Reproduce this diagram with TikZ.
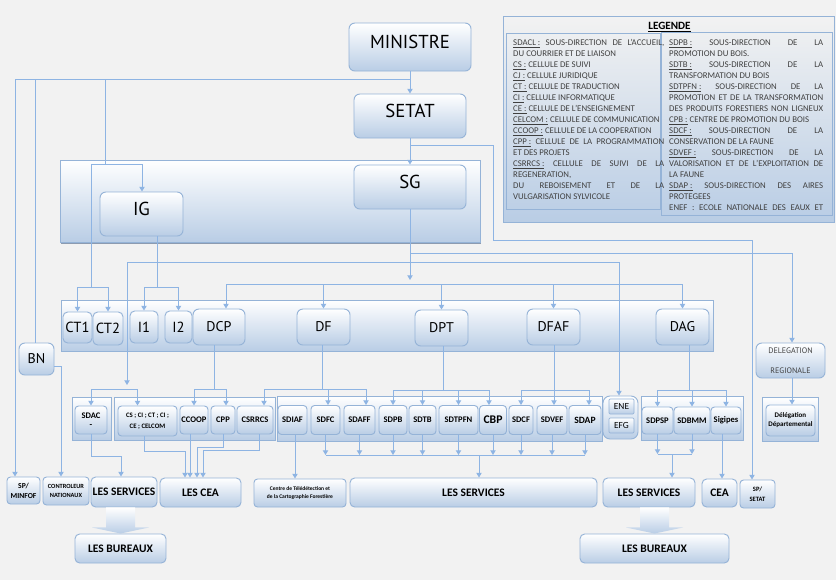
\documentclass[tikz,border=0pt]{standalone}
\usepackage{fontspec}
\setmainfont{Carlito}
\newfontfamily\hdfont{PT Sans}
\usetikzlibrary{arrows.meta,calc}
\tikzset {>={Triangle[width=4.5pt,length=4pt]}}

\definecolor{bggray}{HTML}{F2F2F2}
\definecolor{boxblue}{HTML}{B9CDE5}
\definecolor{boxline}{HTML}{95B3D7}
\definecolor{linkblue}{HTML}{8EB4E3}
\definecolor{legtext}{HTML}{404040}
\definecolor{shadowgray}{HTML}{8C9BB0}

\newlength\legwl
\setlength\legwl{4.53cm}
\newlength\legwr
\setlength\legwr{4.62cm}
\newcommand\jl[1]{\makebox[\legwl][s]{#1}}
\newcommand\jr[1]{\makebox[\legwr][s]{#1}}

\tikzset{
  wh/.style 2 args={minimum width=#1*0.03cm, minimum height=#2*0.03cm},
  box/.style={draw=boxline, line width=0.8pt, rounded corners=4pt, top color=white, bottom color=boxblue, inner sep=0.5pt, align=center, text=black},
  bigbox/.style={box, rounded corners=5pt, text height=10pt, text depth=6.6pt, font=\hdfont\fontsize{16}{18}\selectfont},
  ctbox/.style={box, font=\hdfont\fontsize{12.5}{14}\selectfont},
  midbox/.style={box, rounded corners=5pt, font=\hdfont\fontsize{12}{14}\selectfont},
  subbox/.style={box, rounded corners=3pt, font=\bfseries\fontsize{7.3}{9}\selectfont},
  smallbox/.style={box, rounded corners=1pt, line width=0.6pt, font=\fontsize{8}{9}\selectfont},
  botbox/.style={box, font=\bfseries\fontsize{9.8}{12}\selectfont},
  grp/.style={draw=boxline, line width=0.8pt, top color=white, bottom color=boxblue, inner sep=0pt},
  link/.style={draw=linkblue, line width=0.8pt},
  fatarrow/.style={top color=white, bottom color=boxblue},
  legtxt/.style={anchor=base west, inner sep=0pt, text=legtext, font=\fontsize{7.5}{9}\selectfont},
}

\begin{document}
\begin{tikzpicture}[x=0.03cm, y=-0.03cm]
\useasboundingbox (0,0) rectangle (836,580);
\fill[bggray] (0,0) rectangle (836,580);

% Bands and groups
\fill[shadowgray] (61,240) rectangle (481,244);
\node[grp, wh={420}{82}] (bandA) at (270,201) {};
\node[grp, wh={652}{51}] (bandB) at (387,325.5) {};
\node[grp, wh={39}{43}] (grpA) at (91.5,418.5) {};
\node[grp, wh={161}{43}] (grpB) at (194.5,418.5) {};
\node[grp, wh={325}{45}] (grpC) at (439.5,418.5) {};
\node[grp, rounded corners=6pt, wh={35}{43}] (grpEne) at (620.5,417.5) {};
\node[grp, wh={102}{44}] (grpD) at (692,418) {};
\node[grp, wh={56}{44}] (grpE) at (790,419) {};

% Legend
\node[grp, top color=bggray, wh={331}{206}] (legend) at (668.5,119) {};
\draw[boxline, line width=0.6pt] (506,33) rectangle (660,209);
\draw[boxline, line width=0.6pt] (661,32) rectangle (832,215);
\node[font=\bfseries\fontsize{9.5}{11}\selectfont, inner sep=0pt] (legtitle) at (669.5,27) {\underline{LEGENDE}};
\foreach \txt [count=\i] in {
  {\jl{\underline{SDACL :} SOUS-DIRECTION DE L'ACCUEIL,}},
  {DU COURRIER ET DE LIAISON},
  {\underline{CS :} CELLULE DE SUIVI},
  {\underline{CJ :} CELLULE JURIDIQUE},
  {\underline{CT :} CELLULE DE TRADUCTION},
  {\underline{CI :} CELLULE INFORMATIQUE},
  {\underline{CE :} CELLULE DE L'ENSEIGNEMENT},
  {\underline{CELCOM :} CELLULE DE COMMUNICATION},
  {\underline{CCOOP :} CELLULE DE LA COOPERATION},
  {\jl{\underline{CPP :} CELLULE DE LA PROGRAMMATION}},
  {ET DES PROJETS},
  {\jl{\underline{CSRRCS :} CELLULE DE SUIVI DE LA}},
  {REGENERATION,},
  {\jl{DU REBOISEMENT ET DE LA}},
  {VULGARISATION SYLVICOLE}}
  \node[legtxt] (legl\i) at (513,{45.3+11.03*(\i-1)}) {\txt};
\foreach \txt [count=\i] in {
  {\jr{\underline{SDPB :} SOUS-DIRECTION DE LA}},
  {PROMOTION DU BOIS.},
  {\jr{\underline{SDTB :} SOUS-DIRECTION DE LA}},
  {TRANSFORMATION DU BOIS},
  {\jr{\underline{SDTPFN :} SOUS-DIRECTION DE LA}},
  {\jr{PROMOTION ET DE LA TRANSFORMATION}},
  {\jr{DES PRODUITS FORESTIERS NON LIGNEUX}},
  {\underline{CPB :} CENTRE DE PROMOTION DU BOIS},
  {\jr{\underline{SDCF :} SOUS-DIRECTION DE LA}},
  {CONSERVATION DE LA FAUNE},
  {\jr{\underline{SDVEF :} SOUS-DIRECTION DE LA}},
  {\jr{VALORISATION ET DE L'EXPLOITATION DE}},
  {LA FAUNE},
  {\jr{\underline{SDAP :} SOUS-DIRECTION DES AIRES}},
  {PROTEGEES},
  {\jr{ENEF : ECOLE NATIONALE DES EAUX ET}}}
  \node[legtxt] (legr\i) at (669,{45.3+11.03*(\i-1)}) {\txt};

% Top of the hierarchy
\node[bigbox, wh={122}{48}] (ministre) at (410,47) {MINISTRE};
\node[bigbox, wh={112}{44}] (setat) at (410,116) {SETAT};
\node[bigbox, wh={112}{44}] (sg) at (410,187) {SG};
\node[bigbox, wh={83}{44}] (ig) at (141.5,214) {IG};

% Directions
\node[ctbox, wh={29}{31}] (ct1) at (77.5,327.5) {CT1};
\node[ctbox, wh={30}{33}] (ct2) at (108,328.5) {CT2};
\node[ctbox, wh={28}{32}] (i1) at (144,327) {I1};
\node[ctbox, wh={27}{32}] (i2) at (178.5,327) {I2};
\node[midbox, wh={52}{36}] (dcp) at (219,327) {DCP};
\node[midbox, wh={53}{36}] (df) at (323.5,327) {DF};
\node[midbox, wh={53}{36}] (dpt) at (441.5,328) {DPT};
\node[midbox, wh={53}{36}] (dfaf) at (553.5,327) {DFAF};
\node[midbox, wh={53}{36}] (dag) at (682.5,327) {DAG};
\node[midbox, wh={35}{32}] (bn) at (36.5,359) {BN};
\node[box, rounded corners=5pt, wh={69}{35}, font=\hdfont\fontsize{6.8}{8}\selectfont, text=legtext] (dreg) at (790.5,360.5) {DELEGATION\\[9pt]REGIONALE};

% Sub-directions and cells
\node[subbox, wh={32}{28}, font=\bfseries\fontsize{7.3}{7.8}\selectfont] (sdac) at (91,420) {SDAC\\-};
\node[subbox, wh={59}{30}, font=\bfseries\fontsize{5.8}{9.3}\selectfont] (cells) at (147.5,421) {CS ; CI ; CT ; CI ;\\CE ; CELCOM};
\node[subbox, wh={28}{28}] (ccoop) at (194,420) {CCOOP};
\node[subbox, wh={24}{28}] (cpp) at (223,420) {CPP};
\node[subbox, wh={36}{28}] (csrrcs) at (255,420) {CSRRCS};
\node[subbox, wh={29}{29}] (sdiaf) at (292.5,420) {SDIAF};
\node[subbox, wh={29}{29}] (sdfc) at (325.5,420) {SDFC};
\node[subbox, wh={31}{29}] (sdaff) at (359.5,420) {SDAFF};
\node[subbox, wh={28}{29}] (sdpb) at (393,420) {SDPB};
\node[subbox, wh={27}{29}] (sdtb) at (422.5,420) {SDTB};
\node[subbox, wh={39}{29}] (sdtpfn) at (458.5,420) {SDTPFN};
\node[subbox, wh={27}{29}, font=\bfseries\fontsize{10}{12}\selectfont] (cbp) at (493,420) {CBP};
\node[subbox, wh={24}{29}] (sdcf) at (521,420) {SDCF};
\node[subbox, wh={30}{29}] (sdvef) at (552,420) {SDVEF};
\node[subbox, wh={32}{29}, font=\bfseries\fontsize{8.2}{10}\selectfont] (sdap) at (585,420) {SDAP};
\node[smallbox, wh={25}{15}] (ene) at (621.5,406.5) {ENE};
\node[smallbox, wh={25}{15}] (efg) at (621.5,425.5) {EFG};
\node[subbox, wh={31}{27}] (sdpsp) at (657.5,420.5) {SDPSP};
\node[subbox, wh={36}{27}] (sdbmm) at (692,420.5) {SDBMM};
\node[subbox, wh={30}{27}] (sigipes) at (726,420.5) {Sigipes};
\node[subbox, wh={49}{31}, font=\bfseries\fontsize{6}{7.6}\selectfont] (ddep) at (790.5,420.5) {Délégation\\Départemental};

% Services, CEA and bureaux
\node[subbox, wh={33}{27}, font=\bfseries\fontsize{6.5}{8.5}\selectfont] (spminfof) at (23.5,490.5) {SP/\\MINFOF};
\node[subbox, wh={46}{28}, font=\bfseries\fontsize{5.4}{7.6}\selectfont] (ctrl) at (66,491) {CONTROLEUR\\NATIONAUX};
\node[botbox, wh={66}{30}] (servA) at (124,492) {LES SERVICES};
\node[botbox, wh={81}{29}] (cea) at (200.5,492.5) {LES CEA};
\node[subbox, wh={92}{28}, font=\bfseries\fontsize{4.7}{7.6}\selectfont] (ctf) at (300,493) {Centre de Télédétection et\\de la Cartographie Forestière};
\node[botbox, wh={247}{29}] (servB) at (473.5,492.5) {LES SERVICES};
\node[botbox, wh={92}{29}] (servC) at (649,492.5) {LES SERVICES};
\node[botbox, wh={35}{28}] (ceaB) at (719.5,493) {CEA};
\node[subbox, wh={35}{28}, font=\bfseries\fontsize{5.6}{8.5}\selectfont] (spsetat) at (757.5,494) {SP/\\SETAT};
\node[botbox, wh={91}{29}] (burA) at (120.5,548.5) {LES BUREAUX};
\node[botbox, wh={149}{29}] (burB) at (654.5,548.5) {LES BUREAUX};

% Junction points
\coordinate (jTop) at (410,79);
\coordinate (jMinfof) at (15,79);
\coordinate (jBn) at (35,79);
\coordinate (jIgA) at (105,79);
\coordinate (jIgB) at (105,164);
\coordinate (jCt) at (91,164);
\coordinate (jIg) at (142,164);
\coordinate (jCtBar) at (91,287);
\coordinate (jI) at (157,287);
\coordinate (jSetat) at (410,145);
\coordinate (jSpA) at (493,240);
\coordinate (jSp) at (752,240);
\coordinate (jSgEnd) at (410,280);
\coordinate (jDir) at (226,284);
\coordinate (jDirEnd) at (682,284);
\coordinate (jDrA) at (410,253);
\coordinate (jDr) at (792,253);
\coordinate (jCellA) at (127,262);
\coordinate (jEne) at (619,262);
\coordinate (jCellEnd) at (127,385);
\coordinate (jCellBar) at (127,389);
\coordinate (jDcp) at (214,389);
\coordinate (jDf) at (322,389);
\coordinate (jDpt) at (443,390);
\coordinate (jDfaf) at (554,390);
\coordinate (jDag) at (689,390);
\coordinate (jSdac) at (121,456);
\coordinate (jCeaA) at (185,451);
\coordinate (jCeaB) at (190,451);
\coordinate (jCeaC) at (197,447);
\coordinate (jCeaD) at (203,450);
\coordinate (jSrv) at (479,455);
\coordinate (jDagSrv) at (672,454);

% Draw links from MINISTRE and SETAT
\draw[link,->] (ministre) -- (setat);
\draw[link,->] (jTop) -- (jMinfof) -- (jMinfof |- spminfof.north);
\draw[link] (jBn) -- (jBn |- bn.north);
\draw[link] (jIgA) -- (jIgB);
\draw[link] (jCt) -- (jIg);
\draw[link,->] (jIg) -- (jIg |- ig.north);
\draw[link] (jCt) -- (jCtBar);
\draw[link,->] (jCtBar) -| (ct1);
\draw[link,->] (jCtBar) -| (ct2);
\draw[link] (ig.south -| jI) -- (jI);
\draw[link,->] (jI) -| (i1);
\draw[link,->] (jI) -| (i2);
\draw[link,->] (setat) -- (sg);
\draw[link,->] (jSetat) -| (jSpA) -- (jSp) -- (jSp |- spsetat.north);

% Draw links from SG
\draw[link,->] (sg) -- (jSgEnd);
\draw[link] (jDir) -- (jDirEnd);
\draw[link,->] (jDir) -- (jDir |- dcp.north);
\foreach \n in {df,dpt,dfaf,dag}
  \draw[link,->] (jDir -| \n) -- (\n);
\draw[link] (jDrA) -- (jDr);
\draw[link,->] (jDr) -- (jDr |- dreg.north);
\draw[link,->] (dreg.south -| jDr) -- (jDr |- ddep.north);
\draw[link] (jCellA) -- (jEne);
\draw[link,->] (jCellA) -- (jCellEnd);
\draw[link,->] (jEne) -- (jEne |- grpEne.north);
\draw[link,->] (jCellBar) -| (sdac);
\draw[link,->] (jCellBar) -| ($(cells.north)+(-10,0)$);

% Draw links from the directions
\draw[link] (dcp.south -| jDcp) -- (jDcp);
\draw[link,->] (jDcp) -| (ccoop);
\draw[link,->] (jDcp) -| ($(cpp.north)+(3,0)$);
\draw[link] (df.south -| jDf) -- (jDf);
\draw[link,->] (jDf) -| ($(csrrcs.north)+(9,0)$);
\draw[link,->] (jDf) -| ($(sdfc.north)+(2.5,0)$);
\draw[link,->] (jDf) -| ($(sdaff.north)+(6.5,0)$);
\draw[link] (dpt.south -| jDpt) -- (jDpt);
\draw[link,->] (jDpt) -| (sdpb);
\draw[link,->] (jDpt) -| (sdtb);
\draw[link,->] (jDpt) -| (sdtpfn);
\draw[link,->] (jDpt) -| ($(cbp.north)+(-4,0)$);
\draw[link] (dfaf.south -| jDfaf) -- (jDfaf);
\draw[link,->] (jDfaf) -| (sdcf);
\draw[link,->] (jDfaf) -- (jDfaf |- sdvef.north);
\draw[link,->] (jDfaf) -| ($(sdap.north)+(4,0)$);
\draw[link] (dag.south -| jDag) -- (jDag);
\draw[link,->] (jDag) -| (sdpsp);
\draw[link,->] (jDag) -| (sdbmm);
\draw[link,->] (jDag) -| (sigipes);
\draw[link,->] ($(bn.east)+(0,7)$) -| ($(ctrl.north)+(-5,0)$);

% Draw links down to services and CEA
\draw[link,->] (sdac.south) |- (jSdac) -- (jSdac |- servA.north);
\draw[link,->] ($(cells.south)+(-3.5,0)$) |- (jCeaA) -- (jCeaA |- cea.north);
\draw[link,->] (ccoop.south -| jCeaB) -- (jCeaB |- cea.north);
\draw[link,->] (cpp.south) |- (jCeaC) -- (jCeaC |- cea.north);
\draw[link,->] ($(csrrcs.south)+(4,0)$) |- (jCeaD) -- (jCeaD |- cea.north);
\draw[link,->] ($(sdiaf.south)+(2.5,0)$) -- ($(ctf.north)+(-5,0)$);
\foreach \n in {sdfc,sdaff,sdpb,sdtb,sdtpfn,cbp,sdcf,sdvef,sdap}
  \draw[link,->] (\n.south) -- (\n.south |- jSrv);
\draw[link] (sdfc.south |- jSrv) -- (sdap.south |- jSrv);
\draw[link,->] (jSrv) -- (jSrv |- servB.north);
\draw[link,->] (sdpsp.south) -- (sdpsp.south |- jDagSrv);
\draw[link,->] (sdbmm.south) -- (sdbmm.south |- jDagSrv);
\draw[link] (sdpsp.south |- jDagSrv) -- (sdbmm.south |- jDagSrv);
\draw[link,->] (jDagSrv) -- (jDagSrv |- servC.north);
\draw[link,->] ($(sigipes.south)+(-4,0)$) -- ($(ceaB.north)+(2.5,0)$);

% Draw block arrows to the bureaux
\coordinate (faA) at (servA.south -| burA.north);
\coordinate (faB) at (servC.south -| burB.north);
\shade[fatarrow] ($(faA)+(-14.5,0)$) -- ($(faA)+(14.5,0)$) -- ($(faA)+(14.5,20)$) -- ($(faA)+(28.5,20)$) -- (burA.north) -- ($(faA)+(-28.5,20)$) -- ($(faA)+(-14.5,20)$) -- cycle;
\shade[fatarrow] ($(faB)+(-14.5,0)$) -- ($(faB)+(14.5,0)$) -- ($(faB)+(14.5,20)$) -- ($(faB)+(28.5,20)$) -- (burB.north) -- ($(faB)+(-28.5,20)$) -- ($(faB)+(-14.5,20)$) -- cycle;
\end{tikzpicture}
\end{document}
